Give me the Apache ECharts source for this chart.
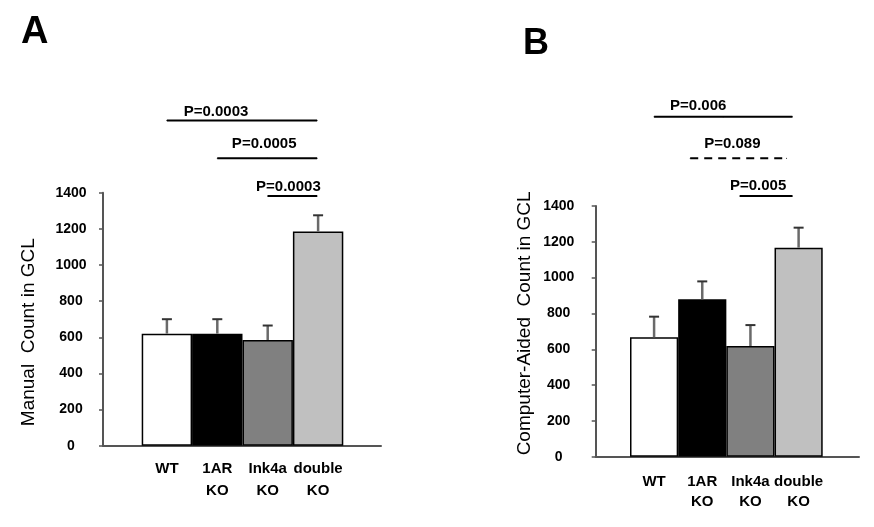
<!DOCTYPE html>
<html>
<head>
<meta charset="utf-8">
<script src="https://cdn.jsdelivr.net/npm/echarts@6/dist/echarts.min.js"></script>
<style>html,body{margin:0;padding:0;background:#fff;}#c{width:874px;height:527px;}</style>
</head>
<body>
<div id="c"></div>
<script>
// ---- data ----
var categories = ['WT', '1AR\nKO', 'Ink4a\nKO', 'double\nKO'];
var yTicks = [0, 200, 400, 600, 800, 1000, 1200, 1400];

var meanA = [620, 620, 585, 1185];
var errA  = [80, 80, 80, 90];
var meanB = [667, 879, 618, 1167];
var errB  = [115, 100, 117, 112];

var sigTextA = ['P=0.0003', 'P=0.0005', 'P=0.0003'];
var sigFromA = [0, 1, 2];
var sigToA   = [2.98, 2.98, 2.98];
var sigYA    = [1800, 1590, 1382];
var sigDashA = [false, false, false];

var sigTextB = ['P=0.006', 'P=0.089', 'P=0.005'];
var sigFromB = [0, 0.75, 1.78];
var sigToB   = [2.87, 2.75, 2.87];
var sigYB    = [1899, 1666, 1456];
var sigDashB = [false, true, false];

var yNameA = 'Manual  Count in GCL';
var yNameB = 'Computer-Aided  Count in GCL';

// ---- styles ----
var barColors = ['#ffffff', '#000000', '#808080', '#c0c0c0'];
var FONT = 'Liberation Sans, Arial, sans-serif';
var labelOffA = [[-26, -9], [-3, -15], [-4, -9]];
var labelOffB = [[-25, -11], [-6, -15], [-8, -10]];

var chart = echarts.init(document.getElementById('c'));

function yMain(gridIndex, margin, name, nameGap, namePad) {
  return {
    type: 'value', gridIndex: gridIndex, min: yTicks[0], max: yTicks[yTicks.length - 1], interval: 200,
    axisLine: { show: true, lineStyle: { color: '#555', width: 2 } },
    axisTick: { show: true, length: 4, lineStyle: { color: '#555', width: 1.5 } },
    splitLine: { show: false },
    axisLabel: { margin: margin, align: 'center', fontFamily: FONT, fontWeight: 'bold', fontSize: 14, color: '#000',
      padding: [10, 0, 0, 0], formatter: function (v) { return String(v); } },
    name: name, nameLocation: 'middle', nameGap: nameGap, nameRotate: 90,
    nameTextStyle: { fontFamily: FONT, fontSize: 19, color: '#000', padding: namePad }
  };
}
function yHidden(gridIndex) {
  return { type: 'value', gridIndex: gridIndex, min: yTicks[0], max: yTicks[yTicks.length - 1], show: false };
}
function xLine(gridIndex) {
  return { type: 'value', gridIndex: gridIndex, min: 0, max: 1,
    axisLine: { show: true, onZero: false, lineStyle: { color: '#555', width: 2 } },
    axisTick: { show: false }, axisLabel: { show: false }, splitLine: { show: false } };
}
function xCat(gridIndex, margin, lh) {
  return { type: 'category', gridIndex: gridIndex, data: categories,
    axisLine: { show: false }, axisTick: { show: false },
    axisLabel: { margin: margin, fontFamily: FONT, fontWeight: 'bold', fontSize: 15, color: '#000', lineHeight: lh, interval: 0 } };
}
function xHidden(gridIndex) {
  return { type: 'value', gridIndex: gridIndex, min: -0.5, max: 3.5, show: false };
}

function barSeries(xi, yi, means) {
  return {
    type: 'bar', xAxisIndex: xi, yAxisIndex: yi, barCategoryGap: '0%',
    data: means.map(function (v, i) {
      return { value: v, itemStyle: { color: barColors[i], borderColor: '#000', borderWidth: 1.5 } };
    }),
    silent: true, z: 2
  };
}
function errSeries(xi, yi, means, errs) {
  return {
    type: 'custom', xAxisIndex: xi, yAxisIndex: yi, z: 3, silent: true,
    data: means.map(function (v, i) { return [i, v, errs[i]]; }),
    encode: { x: 0, y: 1 },
    renderItem: function (params, api) {
      var i = api.value(0), v = api.value(1), e = api.value(2);
      var p0 = api.coord([i, v]);
      var p1 = api.coord([i, v + e]);
      return { type: 'group', children: [
        { type: 'line', shape: { x1: p0[0], y1: p0[1], x2: p1[0], y2: p1[1] }, style: { stroke: '#6a6a6a', lineWidth: 2.5 } },
        { type: 'line', shape: { x1: p1[0] - 5, y1: p1[1], x2: p1[0] + 5, y2: p1[1] }, style: { stroke: '#333', lineWidth: 2 } }
      ] };
    }
  };
}
function sigSeries(xi, yi, texts, froms, tos, ys, dashes, offs) {
  return texts.map(function (t, k) {
    var mid = (froms[k] + tos[k]) / 2;
    return {
      type: 'line', xAxisIndex: xi, yAxisIndex: yi, clip: false, silent: true,
      symbol: 'circle', symbolSize: 1, showSymbol: true,
      itemStyle: { color: '#000' },
      lineStyle: { color: '#000', width: 2, type: dashes[k] ? [8, 6] : 'solid' },
      data: [
        { value: [froms[k], ys[k]], label: { show: false } },
        { value: [mid, ys[k]], label: { show: true, position: 'inside', offset: offs[k], formatter: t,
            fontFamily: FONT, fontWeight: 'bold', fontSize: 15, color: '#000' } },
        { value: [tos[k], ys[k]], label: { show: false } }
      ],
      animation: false
    };
  });
}

var option = {
  animation: false,
  backgroundColor: '#fff',
  title: [
    { text: 'A', left: 16, top: 9, textStyle: { fontFamily: FONT, fontWeight: 'bold', fontSize: 38, color: '#000' } },
    { text: 'B', left: 518, top: 21, textStyle: { fontFamily: FONT, fontWeight: 'bold', fontSize: 36, color: '#000' } }
  ],
  grid: [
    { left: 103, width: 278, top: 192.7, height: 253 },
    { left: 141.7, width: 201.6, top: 192.7, height: 253 },
    { left: 595.7, width: 263.3, top: 206, height: 250.7 },
    { left: 630, width: 192.7, top: 206, height: 250.7 }
  ],
  xAxis: [
    xLine(0), xCat(1, 12, 22), xHidden(1),
    xLine(2), xCat(3, 15, 20), xHidden(3)
  ],
  yAxis: [
    yMain(0, 32, yNameA, 65, [0, 26, 0, 0]), yHidden(1),
    yMain(2, 37, yNameB, 61, [0, 0, 0, 16]), yHidden(3)
  ],
  series: [].concat(
    [barSeries(1, 1, meanA), errSeries(1, 1, meanA, errA)],
    sigSeries(2, 1, sigTextA, sigFromA, sigToA, sigYA, sigDashA, labelOffA),
    [barSeries(4, 3, meanB), errSeries(4, 3, meanB, errB)],
    sigSeries(5, 3, sigTextB, sigFromB, sigToB, sigYB, sigDashB, labelOffB)
  )
};
chart.setOption(option);
</script>
</body>
</html>
